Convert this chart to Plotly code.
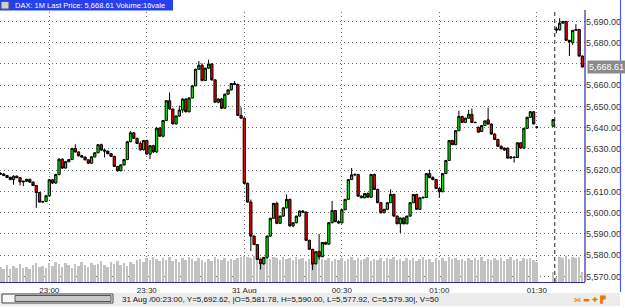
import pandas as pd
import plotly.graph_objects as go

# ---------------- data ----------------
session_start = "2012-08-30 22:45"
# minute offsets from session_start (no trades 01:31-01:34)
minutes = list(range(0, 166)) + list(range(170, 180))

open_ = [
5618.5,5618.2,5617.5,5616.6,5615.6,5617.2,5616.5,5614.5,5614.8,5615.7,
5614.4,5612.8,5609.5,5605.0,5605.3,5608.0,5615.5,5614.0,5618.0,5625.2,
5621.0,5624.0,5625.0,5630.2,5628.6,5626.8,5626.2,5624.9,5623.3,5626.3,
5628.2,5632.0,5629.5,5629.0,5627.8,5626.5,5621.8,5619.7,5622.5,5625.0,
5633.4,5637.6,5635.0,5632.6,5629.6,5634.0,5627.6,5631.5,5628.6,5639.8,
5636.0,5643.4,5652.7,5648.8,5641.8,5645.5,5648.3,5653.5,5647.5,5654.0,
5659.7,5667.5,5669.4,5662.2,5668.0,5670.0,5662.5,5652.0,5653.5,5649.2,
5655.8,5657.8,5660.8,5660.4,5645.8,5644.5,5613.8,5605.0,5589.0,5585.0,
5578.0,5576.0,5579.0,5589.0,5597.4,5604.4,5595.0,5598.4,5602.3,5606.3,
5593.8,5595.3,5598.4,5600.8,5600.3,5587.0,5582.8,5576.0,5581.78,5579.3,
5586.0,5585.2,5595.3,5601.0,5595.8,5595.2,5601.4,5606.3,5615.6,5617.8,
5618.0,5607.8,5607.0,5609.0,5607.3,5618.0,5611.0,5604.7,5600.0,5601.6,
5604.7,5608.6,5598.4,5594.8,5597.5,5594.8,5598.4,5604.7,5608.6,5601.6,
5607.0,5607.2,5618.4,5616.5,5615.6,5611.4,5609.9,5618.4,5624.6,5634.0,
5632.0,5638.6,5645.3,5642.5,5644.5,5646.3,5642.5,5640.2,5638.2,5641.0,
5643.7,5641.7,5637.0,5634.5,5631.3,5629.5,5630.4,5625.7,5626.2,5626.0,
5632.9,5630.4,5639.7,5644.9,5647.5,5640.4,
5640.7,5686.5,5686.0,5689.2,5690.0,5681.1,5680.0,5685.8,5686.2,5673.7,
]
high = [
5619.0,5618.6,5617.8,5617.0,5617.6,5617.5,5616.8,5615.0,5616.0,5616.0,
5614.7,5613.0,5609.8,5605.6,5608.4,5615.8,5615.7,5618.3,5625.6,5625.6,
5624.4,5625.3,5630.6,5632.2,5628.9,5627.3,5626.4,5625.1,5626.6,5628.5,
5632.3,5632.5,5629.9,5629.2,5628.1,5626.8,5622.0,5622.8,5625.3,5633.8,
5638.4,5638.0,5635.3,5633.6,5634.3,5634.3,5631.8,5632.0,5640.2,5640.2,
5643.6,5653.0,5656.6,5649.0,5645.8,5650.4,5653.8,5653.8,5654.3,5659.9,
5667.8,5671.4,5670.3,5668.3,5672.0,5670.4,5662.8,5653.8,5654.0,5656.0,
5658.0,5661.0,5662.0,5660.7,5649.6,5644.8,5614.2,5606.2,5589.3,5585.3,
5578.4,5579.2,5589.2,5597.6,5604.6,5605.2,5598.6,5602.5,5608.6,5606.6,
5595.6,5598.6,5601.0,5601.2,5600.6,5587.3,5583.0,5582.0,5590.0,5586.2,
5586.5,5595.5,5605.5,5601.3,5596.5,5601.6,5606.5,5615.8,5621.0,5618.5,
5618.3,5608.2,5609.2,5609.6,5618.3,5618.4,5611.3,5605.0,5601.8,5604.9,
5611.0,5608.9,5598.7,5597.7,5597.8,5598.6,5604.9,5608.8,5608.9,5607.2,
5607.6,5618.6,5620.3,5617.2,5615.9,5612.2,5618.6,5624.8,5634.2,5634.3,
5638.8,5648.0,5645.6,5644.7,5648.4,5649.0,5642.8,5640.5,5641.2,5643.4,
5649.5,5642.0,5637.3,5634.8,5631.6,5630.7,5630.6,5626.5,5626.5,5633.1,
5633.2,5639.9,5645.1,5647.8,5647.8,5640.5,
5644.0,5687.5,5691.5,5690.3,5690.3,5681.4,5686.0,5688.7,5686.5,5674.0,
]
low = [
5617.8,5617.2,5616.3,5615.3,5613.2,5616.2,5612.8,5612.5,5614.5,5614.0,
5612.5,5602.3,5604.8,5604.5,5605.0,5607.6,5613.5,5613.6,5617.6,5620.6,
5620.8,5623.8,5624.8,5628.3,5626.5,5625.8,5624.6,5623.0,5623.0,5626.0,
5628.0,5629.2,5626.0,5627.5,5626.2,5621.5,5619.4,5619.5,5622.2,5624.8,
5633.2,5634.8,5632.3,5629.2,5629.3,5627.3,5625.2,5628.2,5628.2,5635.8,
5635.5,5643.0,5648.5,5641.5,5641.5,5645.2,5647.0,5647.2,5647.2,5653.8,
5659.5,5667.2,5661.8,5662.0,5667.8,5662.2,5651.8,5651.5,5648.8,5649.0,
5655.5,5657.5,5660.0,5645.5,5644.2,5613.5,5604.8,5582.0,5584.8,5577.8,
5573.3,5575.5,5578.4,5588.6,5597.0,5594.6,5594.8,5598.0,5602.0,5593.5,
5593.2,5595.0,5598.2,5599.8,5586.7,5582.5,5573.0,5575.6,5577.92,5579.0,
5584.8,5585.0,5595.0,5595.5,5594.8,5595.0,5601.2,5606.0,5615.4,5617.2,
5607.5,5606.8,5606.8,5607.0,5607.0,5610.8,5604.5,5599.6,5599.8,5601.4,
5604.5,5598.2,5594.6,5590.5,5594.5,5594.6,5598.2,5604.5,5601.4,5601.4,
5606.5,5607.0,5616.2,5615.3,5611.2,5607.0,5609.6,5618.2,5624.4,5631.8,
5631.8,5638.4,5642.2,5642.3,5644.3,5642.2,5642.2,5637.6,5638.0,5640.8,
5641.5,5636.8,5634.2,5631.0,5629.8,5629.2,5625.5,5625.4,5623.6,5625.8,
5630.2,5630.2,5639.5,5644.7,5641.6,5640.0,
5640.5,5684.5,5685.8,5689.0,5680.8,5673.7,5679.0,5685.5,5673.5,5668.3,
]
close = [
5618.2,5617.5,5616.6,5615.6,5617.2,5616.5,5614.5,5614.8,5615.7,5614.4,
5612.8,5609.5,5605.0,5605.3,5608.0,5615.5,5614.0,5618.0,5625.2,5621.0,
5624.0,5625.0,5630.2,5628.6,5626.8,5626.2,5624.9,5623.3,5626.3,5628.2,
5632.0,5629.5,5629.0,5627.8,5626.5,5621.8,5619.7,5622.5,5625.0,5633.4,
5637.6,5635.0,5632.6,5629.6,5634.0,5627.6,5631.5,5628.6,5639.8,5636.0,
5643.4,5652.7,5648.8,5641.8,5645.5,5648.3,5653.5,5647.5,5654.0,5659.7,
5667.5,5669.4,5662.2,5668.0,5670.0,5662.5,5652.0,5653.5,5649.2,5655.8,
5657.8,5660.8,5660.4,5645.8,5644.5,5613.8,5605.0,5589.0,5585.0,5578.0,
5576.0,5579.0,5589.0,5597.4,5604.4,5595.0,5598.4,5602.3,5606.3,5593.8,
5595.3,5598.4,5600.8,5600.3,5587.0,5582.8,5575.8,5581.6,5579.30,5586.0,
5585.2,5595.3,5601.0,5595.8,5595.2,5601.4,5606.3,5615.6,5617.8,5618.0,
5607.8,5607.0,5609.0,5607.3,5618.0,5611.0,5604.7,5600.0,5601.6,5604.7,
5608.6,5598.4,5594.8,5597.5,5594.8,5598.4,5604.7,5608.6,5601.6,5607.0,
5607.2,5618.4,5616.5,5615.6,5611.4,5609.9,5618.4,5624.6,5634.0,5632.0,
5638.6,5645.3,5642.5,5644.5,5646.3,5642.5,5642.4,5637.9,5641.0,5643.2,
5641.7,5637.0,5634.5,5631.3,5630.1,5630.4,5625.7,5626.2,5626.0,5632.9,
5630.4,5639.7,5644.9,5647.5,5641.8,5640.2,
5643.8,5686.0,5689.2,5690.0,5681.1,5680.5,5685.8,5686.2,5673.7,5668.61,
]
volume = [
30,27,34,26,32,29,36,28,31,27,34,38,30,33,28,
38,33,41,36,31,39,34,29,37,33,40,35,30,38,34,
37,42,35,31,40,36,42,34,38,32,41,37,44,46,40,
48,44,50,46,42,49,45,51,43,47,40,48,44,50,46,
42,49,45,41,47,43,50,46,44,48,42,47,45,49,51,
52,50,48,53,47,51,49,52,46,50,48,44,51,47,49,
45,50,46,48,43,47,49,45,50,46,44,48,42,47,45,
49,43,47,51,45,48,44,46,50,42,47,45,49,43,48,
46,50,44,47,42,49,45,48,43,46,50,44,47,41,48,
45,49,43,50,46,48,44,47,42,49,45,48,44,50,43,
47,45,49,44,48,42,46,50,45,47,43,49,46,48,44,
40,
20,10,50,48,52,47,51,49,50,20,
]

last_price = 5668.61
live_marker = "2012-08-31 01:35:30"
tick_times = ["2012-08-30 23:00", "2012-08-30 23:30", "2012-08-31 00:00",
              "2012-08-31 00:30", "2012-08-31 01:00", "2012-08-31 01:30"]
tick_labels = ["23:00", "23:30", "31 Aug", "00:30", "01:00", "01:30"]
price_ticks = [5570, 5580, 5590, 5600, 5610, 5620, 5630, 5640, 5650, 5660, 5670, 5680, 5690]
x_range = ["2012-08-30 22:44:50", "2012-08-31 01:44:48"]
price_range = [5567.4, 5694.45]
volume_range = [0, 542]
title_text = "DAX: 1M Last Price: 5,668.61 Volume:16vale"
status_text = "31 Aug /00:23:00, Y=5,692.62, |O=5,581.78, H=5,590.00, L=5,577.92, C=5,579.30|, V=50"

# ---------------- figure ----------------
base = pd.Timestamp(session_start)
times = [base + pd.Timedelta(minutes=m) for m in minutes]

W, H = 625, 308
ML, MR, MT, MB = 0, 40, 12, 26
PW, PH = W - ML - MR, H - MT - MB


def px_x(x):
    return (x - ML) / PW


def px_y(y):
    return (H - MB - y) / PH


FONT = "Liberation Sans"
fig = go.Figure()

fig.add_trace(go.Bar(
    x=times, y=volume, yaxis="y", width=36000,
    marker=dict(color="#c2c2c2", line=dict(width=0)),
    hoverinfo="skip", showlegend=False,
))
fig.add_trace(go.Candlestick(
    x=times, open=open_, high=high, low=low, close=close, yaxis="y2",
    increasing=dict(fillcolor="#00e800", line=dict(color="#000000", width=1)),
    decreasing=dict(fillcolor="#ee0000", line=dict(color="#000000", width=1)),
    showlegend=False,
))

# hide the tick label covered by the last-price box (gridline stays)
price_ticktext = ["" if abs(v - last_price) < 5 else f"{v:,.2f}" for v in price_ticks]

shapes = [
    dict(type="line", xref="x", yref="paper", x0=live_marker, x1=live_marker,
         y0=0, y1=1, line=dict(color="#222222", width=1, dash="4px,3px")),
    dict(type="line", xref="paper", yref="paper", x0=1, x1=1, y0=0, y1=px_y(10),
         line=dict(color="#2a2aa8", width=1.2)),
    dict(type="line", xref="paper", yref="paper", x0=px_x(620.5), x1=px_x(620.5),
         y0=px_y(0), y1=px_y(292), line=dict(color="#4a5cff", width=1.2)),
    dict(type="rect", xref="paper", yref="paper", x0=0, x1=px_x(173),
         y0=px_y(10.5), y1=px_y(0), fillcolor="#2540ee", line=dict(width=0)),
    dict(type="rect", xref="paper", yref="paper", x0=px_x(1), x1=px_x(9),
         y0=px_y(9), y1=px_y(1.5), fillcolor="#cfcfcf",
         line=dict(color="#555555", width=1)),
    dict(type="rect", xref="paper", yref="paper", x0=0, x1=px_x(620),
         y0=px_y(306), y1=px_y(293), fillcolor="#ececec", line=dict(width=0)),
    dict(type="rect", xref="paper", yref="paper", x0=px_x(2), x1=px_x(113),
         y0=px_y(303), y1=px_y(294), fillcolor="#f6f6f6",
         line=dict(color="#444444", width=1)),
    dict(type="rect", xref="paper", yref="paper", x0=px_x(15), x1=px_x(111),
         y0=px_y(301.5), y1=px_y(295.5), fillcolor="#c8c8c8",
         line=dict(color="#555555", width=1)),
]

annotations = [
    dict(text=title_text, xref="paper", yref="paper", x=px_x(13), y=px_y(5.5),
         xanchor="left", yanchor="middle", showarrow=False,
         font=dict(family=FONT, size=7.5, color="#ffffff")),
    dict(text=status_text, xref="paper", yref="paper", x=px_x(120), y=px_y(299),
         xanchor="left", yanchor="middle", showarrow=False,
         font=dict(family=FONT, size=8, color="#111111")),
    dict(text="⋈ ▬ ✚ ▛", xref="paper", yref="paper", x=px_x(572), y=px_y(299),
         xanchor="left", yanchor="middle", showarrow=False,
         font=dict(family="DejaVu Sans", size=7, color="#e07a00")),
    dict(text=f"{last_price:,.2f}", xref="paper", yref="y2", x=1, xshift=2,
         y=last_price, xanchor="left", yanchor="middle", showarrow=False,
         bgcolor="#8a8a8a", borderpad=1,
         font=dict(family=FONT, size=9, color="#ffffff")),
]

fig.update_layout(
    width=W, height=H,
    margin=dict(l=ML, r=MR, t=MT, b=MB),
    paper_bgcolor="#ffffff", plot_bgcolor="#ffffff",
    boxgap=0.0,
    bargap=0,
    showlegend=False,
    xaxis=dict(
        type="date", range=x_range, rangeslider=dict(visible=False),
        tickvals=tick_times, ticktext=tick_labels,
        showgrid=True, gridcolor="#6f6f6f", griddash="1px,3px", gridwidth=1,
        showline=True, linecolor="#2a2aa8", linewidth=1.2,
        ticks="", zeroline=False,
        tickfont=dict(family=FONT, size=8, color="#222222"),
    ),
    yaxis=dict(range=volume_range, visible=False, showgrid=False, fixedrange=True),
    yaxis2=dict(
        overlaying="y", side="right", range=price_range,
        tickvals=price_ticks, ticktext=price_ticktext,
        showgrid=True, gridcolor="#6f6f6f", griddash="1px,3px", gridwidth=1,
        showline=False, zeroline=False, ticks="",
        tickfont=dict(family=FONT, size=9, color="#333333"),
    ),
    shapes=shapes,
    annotations=annotations,
)

fig.write_html("out.html")
